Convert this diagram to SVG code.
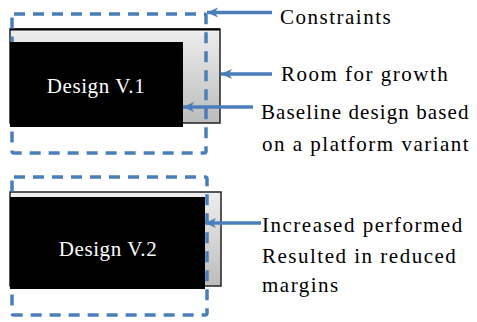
<svg xmlns="http://www.w3.org/2000/svg" width="477" height="322" viewBox="0 0 477 322">
<style>
.lbl{font-family:"Liberation Serif","Times New Roman",serif;font-size:21px;letter-spacing:1.5px;fill:#000}
.tight{letter-spacing:1.1px}
.dtxt{font-family:"Liberation Serif","Times New Roman",serif;font-size:21px;letter-spacing:0.6px;fill:#fff;text-anchor:middle}
.dash{fill:none;stroke:#4a7ebb;stroke-width:3.5;stroke-dasharray:11 8}
.gray{fill:url(#g);stroke:#222;stroke-width:1.5}
.blk{fill:#000}
.conn{stroke:#4a7ebb;stroke-width:3.5;fill:none;marker-end:url(#ah)}
</style>
<defs>
<linearGradient id="g" x1="0" y1="0" x2="0" y2="1">
<stop offset="0" stop-color="#eeeeee"/>
<stop offset="1" stop-color="#bcbcbc"/>
</linearGradient>
<marker id="ah" markerUnits="userSpaceOnUse" markerWidth="12" markerHeight="12" viewBox="0 0 12 12" refX="11" refY="6" orient="auto">
<path d="M0,1 L11,6 L0,11 L3,6 Z" fill="#4a7ebb"/>
</marker>
</defs>
<g id="design-v1">
<rect class="gray" x="10" y="29" width="210" height="94"/>
<line x1="10" y1="29.5" x2="220" y2="29.5" stroke="#000" stroke-width="2"/>
<rect id="constraints-v1" class="dash" x="12" y="14" width="194" height="139" rx="2"/>
<rect class="blk" x="10" y="42" width="173" height="85"/>
<text class="dtxt" x="96" y="93">Design V.1</text>
</g>
<g id="design-v2">
<rect class="gray" x="10" y="192" width="211" height="94"/>
<rect id="constraints-v2" class="dash" x="12" y="177" width="195" height="138" rx="2"/>
<rect class="blk" x="10" y="197" width="195" height="92"/>
<text class="dtxt" x="108" y="256">Design V.2</text>
</g>
<g id="connectors">
<line class="conn" x1="272" y1="12.5" x2="207" y2="12.5"/>
<line class="conn" x1="272" y1="74" x2="221" y2="74"/>
<line class="conn" x1="253" y1="107" x2="183" y2="107"/>
<line class="conn" x1="261" y1="223" x2="205" y2="223"/>
</g>
<g id="label-constraints"><text class="lbl" x="280" y="24">Constraints</text></g>
<g id="label-room"><text class="lbl" x="281" y="81">Room for growth</text></g>
<g id="label-baseline">
<text class="lbl tight" x="261" y="119">Baseline design based</text>
<text class="lbl" x="262" y="151">on a platform variant</text>
</g>
<g id="label-increased">
<text class="lbl" x="262" y="232">Increased performed</text>
<text class="lbl" x="262" y="263">Resulted in reduced</text>
<text class="lbl" x="262" y="292">margins</text>
</g>
</svg>
